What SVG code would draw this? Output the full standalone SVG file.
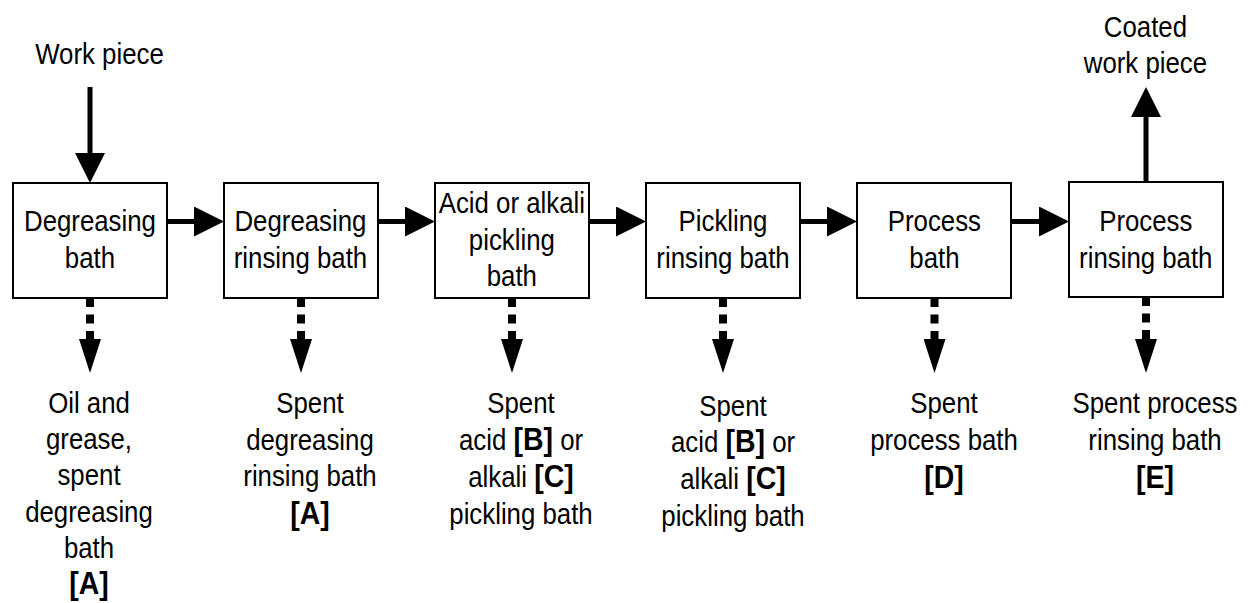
<svg xmlns="http://www.w3.org/2000/svg" width="1250" height="603" viewBox="0 0 1250 603">
<style>
  .box { fill: #fff; stroke: #000; stroke-width: 2; }
  .t { font-family: "Liberation Sans", Arial, sans-serif; font-size: 29px; fill: #000; text-anchor: middle; transform: scaleX(0.89); }
  .b { font-weight: bold; font-size: 32px; }
  .flow { stroke: #000; stroke-width: 5; fill: none; }
  .waste { stroke: #000; stroke-width: 8; fill: none; stroke-dasharray: 9 7.5; }
</style>
<defs>
  <marker id="ah" markerUnits="userSpaceOnUse" viewBox="0 0 30 30" refX="0" refY="15" markerWidth="30" markerHeight="30" orient="auto">
    <path d="M0,0 L30,15 L0,30 Z" fill="#000"/>
  </marker>
  <marker id="ahd" markerUnits="userSpaceOnUse" viewBox="0 0 34 22" refX="0" refY="11" markerWidth="34" markerHeight="22" orient="auto">
    <path d="M0,0 L34,11 L0,22 Z" fill="#000"/>
  </marker>
</defs>

<g id="input">
  <text class="t"><tspan x="111.8" y="64">Work piece</tspan></text>
</g>
<g id="output">
  <text class="t"><tspan x="1287" y="37">Coated</tspan><tspan x="1287" y="73">work piece</tspan></text>
</g>

<g id="n1">
  <rect class="box" x="13" y="183" width="154" height="115"/>
  <text class="t"><tspan x="101.1" y="231">Degreasing</tspan><tspan x="101.1" y="268">bath</tspan></text>
</g>
<g id="n2">
  <rect class="box" x="224" y="183" width="154" height="115"/>
  <text class="t"><tspan x="337.6" y="231">Degreasing</tspan><tspan x="337.6" y="268">rinsing bath</tspan></text>
</g>
<g id="n3">
  <rect class="box" x="435" y="183" width="154" height="115"/>
  <text class="t"><tspan x="575.1" y="213">Acid or alkali</tspan><tspan x="575.1" y="250">pickling</tspan><tspan x="575.1" y="286">bath</tspan></text>
</g>
<g id="n4">
  <rect class="box" x="646" y="183" width="154" height="115"/>
  <text class="t"><tspan x="812.4" y="231">Pickling</tspan><tspan x="812.4" y="268">rinsing bath</tspan></text>
</g>
<g id="n5">
  <rect class="box" x="857" y="183" width="154" height="115"/>
  <text class="t"><tspan x="1049.9" y="231">Process</tspan><tspan x="1049.9" y="268">bath</tspan></text>
</g>
<g id="n6">
  <rect class="box" x="1069" y="182" width="154" height="115"/>
  <text class="t"><tspan x="1287.4" y="231">Process</tspan><tspan x="1287.4" y="268">rinsing bath</tspan></text>
</g>

<g id="w1">
  <text class="t"><tspan x="100" y="413">Oil and</tspan><tspan x="100" y="449">grease,</tspan><tspan x="100" y="485">spent</tspan><tspan x="100" y="522">degreasing</tspan><tspan x="100" y="558">bath</tspan><tspan class="b" x="100" y="594">[A]</tspan></text>
</g>
<g id="w2">
  <text class="t"><tspan x="348.3" y="413">Spent</tspan><tspan x="348.3" y="450">degreasing</tspan><tspan x="348.3" y="486">rinsing bath</tspan><tspan class="b" x="348.3" y="524">[A]</tspan></text>
</g>
<g id="w3">
  <text class="t"><tspan x="585.4" y="413">Spent</tspan><tspan x="585.4" y="450">acid <tspan class="b">[B]</tspan> or</tspan><tspan x="585.4" y="487">alkali <tspan class="b">[C]</tspan></tspan><tspan x="585.4" y="524">pickling bath</tspan></text>
</g>
<g id="w4">
  <text class="t"><tspan x="823.6" y="416">Spent</tspan><tspan x="823.6" y="452">acid <tspan class="b">[B]</tspan> or</tspan><tspan x="823.6" y="489">alkali <tspan class="b">[C]</tspan></tspan><tspan x="823.6" y="526">pickling bath</tspan></text>
</g>
<g id="w5">
  <text class="t"><tspan x="1060.7" y="413">Spent</tspan><tspan x="1060.7" y="450">process bath</tspan><tspan class="b" x="1060.7" y="488">[D]</tspan></text>
</g>
<g id="w6">
  <text class="t"><tspan x="1297.8" y="413">Spent process</tspan><tspan x="1297.8" y="450">rinsing bath</tspan><tspan class="b" x="1297.8" y="488">[E]</tspan></text>
</g>

<g id="connectors">
  <line class="flow" x1="90" y1="87" x2="90" y2="153" marker-end="url(#ah)"/>
  <line class="flow" x1="1146" y1="182" x2="1146" y2="117" marker-end="url(#ah)"/>
  <line class="flow" x1="167" y1="221.5" x2="194" y2="221.5" marker-end="url(#ah)"/>
  <line class="flow" x1="378" y1="221.5" x2="405" y2="221.5" marker-end="url(#ah)"/>
  <line class="flow" x1="589" y1="221.5" x2="616" y2="221.5" marker-end="url(#ah)"/>
  <line class="flow" x1="800" y1="221.5" x2="827" y2="221.5" marker-end="url(#ah)"/>
  <line class="flow" x1="1011" y1="221.5" x2="1039" y2="221.5" marker-end="url(#ah)"/>
  <line class="waste" x1="90" y1="298" x2="90" y2="339" marker-end="url(#ahd)"/>
  <line class="waste" x1="301" y1="298" x2="301" y2="339" marker-end="url(#ahd)"/>
  <line class="waste" x1="512" y1="298" x2="512" y2="339" marker-end="url(#ahd)"/>
  <line class="waste" x1="723" y1="298" x2="723" y2="339" marker-end="url(#ahd)"/>
  <line class="waste" x1="934.5" y1="298" x2="934.5" y2="339" marker-end="url(#ahd)"/>
  <line class="waste" x1="1146" y1="297" x2="1146" y2="339" marker-end="url(#ahd)"/>
</g>
</svg>
